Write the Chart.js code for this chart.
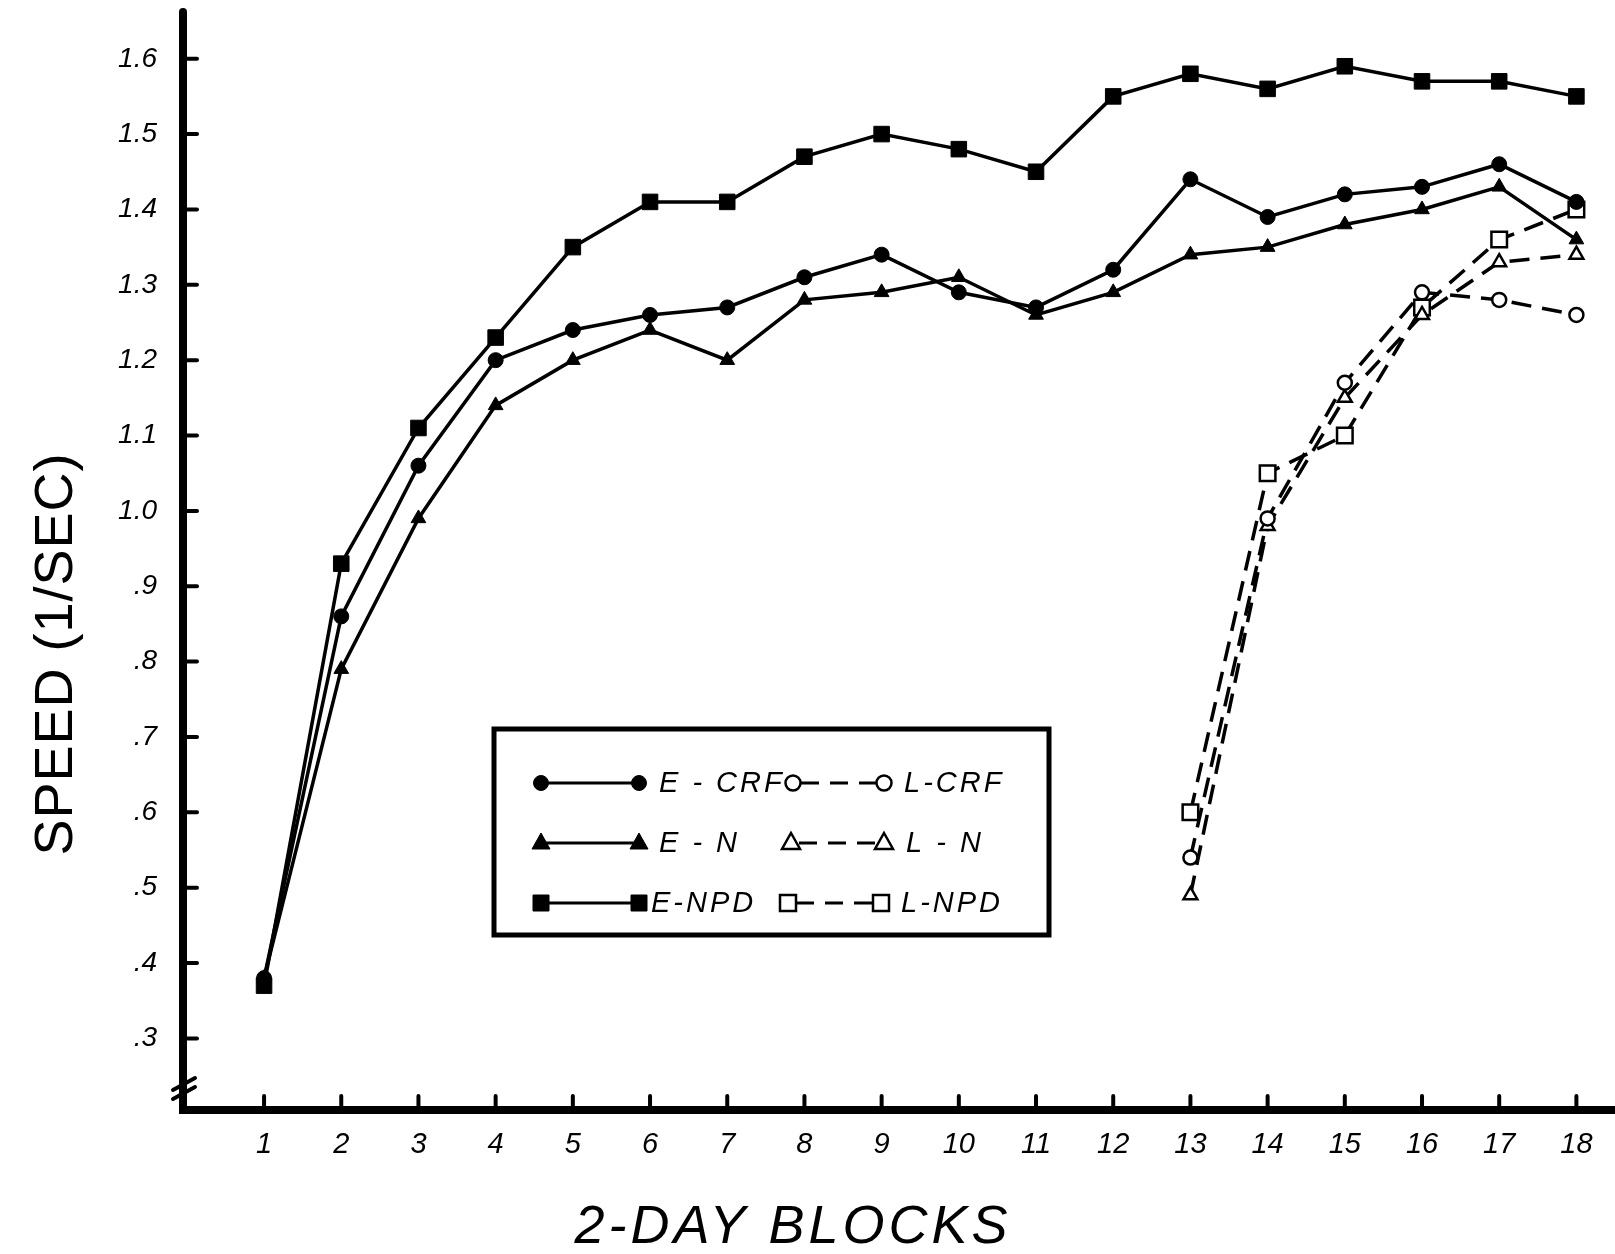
<!DOCTYPE html>
<html>
<head>
<meta charset="utf-8">
<script src="https://cdn.jsdelivr.net/npm/chart.js@4.4.0/dist/chart.umd.min.js"></script>
<style>
html, body { margin: 0; padding: 0; background: #fff; }
#wrap { width: 1615px; height: 1254px; }
</style>
</head>
<body>
<div id="wrap"><canvas id="canvas" width="1615" height="1254"></canvas></div>
<script>
// 2-day blocks and mean speeds (1/sec)
var blocks = [1, 2, 3, 4, 5, 6, 7, 8, 9, 10, 11, 12, 13, 14, 15, 16, 17, 18];
var lateBlocks = [13, 14, 15, 16, 17, 18];

var eCrf = [0.38, 0.86, 1.06, 1.20, 1.24, 1.26, 1.27, 1.31, 1.34, 1.29, 1.27, 1.32, 1.44, 1.39, 1.42, 1.43, 1.46, 1.41];
var eN   = [0.38, 0.79, 0.99, 1.14, 1.20, 1.24, 1.20, 1.28, 1.29, 1.31, 1.26, 1.29, 1.34, 1.35, 1.38, 1.40, 1.43, 1.36];
var eNpd = [0.37, 0.93, 1.11, 1.23, 1.35, 1.41, 1.41, 1.47, 1.50, 1.48, 1.45, 1.55, 1.58, 1.56, 1.59, 1.57, 1.57, 1.55];

var lCrf = [0.54, 0.99, 1.17, 1.29, 1.28, 1.26];
var lN   = [0.49, 0.98, 1.15, 1.26, 1.33, 1.34];
var lNpd = [0.60, 1.05, 1.10, 1.27, 1.36, 1.40];

var yTickValues = [0.3, 0.4, 0.5, 0.6, 0.7, 0.8, 0.9, 1.0, 1.1, 1.2, 1.3, 1.4, 1.5, 1.6];
var yTickLabels = ['.3', '.4', '.5', '.6', '.7', '.8', '.9', '1.0', '1.1', '1.2', '1.3', '1.4', '1.5', '1.6'];

var FONT = '"Liberation Sans", "DejaVu Sans", sans-serif';

function points(xs, ys) {
    return xs.map(function(x, i) { return {x: x, y: ys[i]}; });
}

function earlySet(label, values, style, radius) {
    return {
        label: label,
        data: points(blocks, values),
        borderColor: '#000',
        backgroundColor: '#000',
        borderWidth: 3.5,
        pointStyle: style,
        pointRadius: radius,
        pointBackgroundColor: '#000',
        pointBorderColor: '#000',
        pointBorderWidth: 1,
        tension: 0,
        fill: false
    };
}

function lateSet(label, values, style, radius, dash) {
    return {
        label: label,
        data: points(lateBlocks, values),
        borderColor: '#000',
        backgroundColor: '#fff',
        borderWidth: 3.5,
        borderDash: dash,
        pointStyle: style,
        pointRadius: radius,
        pointBackgroundColor: '#fff',
        pointBorderColor: '#000',
        pointBorderWidth: 2.5,
        tension: 0,
        fill: false
    };
}

function marker(ctx, style, x, y, filled) {
    ctx.save();
    ctx.fillStyle = filled ? '#000' : '#fff';
    ctx.strokeStyle = '#000';
    ctx.lineWidth = filled ? 1 : 2.5;
    ctx.beginPath();
    if (style === 'circle') {
        ctx.arc(x, y, 7.5, 0, Math.PI * 2);
    } else if (style === 'triangle') {
        ctx.moveTo(x, y - 10);
        ctx.lineTo(x + 9, y + 6);
        ctx.lineTo(x - 9, y + 6);
        ctx.closePath();
    } else {
        ctx.rect(x - 8, y - 8, 16, 16);
    }
    ctx.fill();
    ctx.stroke();
    ctx.restore();
}

function legendLine(ctx, x1, x2, y, dash) {
    ctx.save();
    ctx.strokeStyle = '#000';
    ctx.lineWidth = 3;
    ctx.setLineDash(dash);
    ctx.beginPath();
    ctx.moveTo(x1, y);
    ctx.lineTo(x2, y);
    ctx.stroke();
    ctx.restore();
}

var paperPlugin = {
    id: 'paper',
    afterDraw: function(chart) {
        var ctx = chart.ctx;
        var area = chart.chartArea;
        var xs = chart.scales.x;
        var ys = chart.scales.y;

        ctx.save();
        // axes
        ctx.strokeStyle = '#000';
        ctx.lineCap = 'round';
        ctx.lineWidth = 8;
        ctx.beginPath();
        ctx.moveTo(area.left, area.top);
        ctx.lineTo(area.left, area.bottom);
        ctx.lineTo(chart.width, area.bottom);
        ctx.stroke();

        // inward tick stubs
        ctx.lineWidth = 4;
        yTickValues.forEach(function(v) {
            var py = ys.getPixelForValue(v);
            ctx.beginPath();
            ctx.moveTo(area.left, py);
            ctx.lineTo(area.left + 14, py);
            ctx.stroke();
        });
        blocks.forEach(function(b) {
            var px = xs.getPixelForValue(b);
            ctx.beginPath();
            ctx.moveTo(px, area.bottom);
            ctx.lineTo(px, area.bottom - 14);
            ctx.stroke();
        });

        // axis break
        ctx.lineWidth = 4;
        ctx.beginPath();
        ctx.moveTo(area.left - 10, area.bottom - 20);
        ctx.lineTo(area.left + 12, area.bottom - 32);
        ctx.moveTo(area.left - 10, area.bottom - 11);
        ctx.lineTo(area.left + 12, area.bottom - 23);
        ctx.stroke();

        // axis titles
        ctx.fillStyle = '#000';
        ctx.textAlign = 'center';
        ctx.textBaseline = 'middle';
        ctx.font = 'italic 54px ' + FONT;
        ctx.letterSpacing = '4px';
        ctx.fillText('2-DAY BLOCKS', 793, 1228);
        ctx.letterSpacing = '1px';
        ctx.save();
        ctx.translate(57, 654);
        ctx.rotate(-Math.PI / 2);
        ctx.font = '54px ' + FONT;
        ctx.fillText('SPEED (1/SEC)', 0, 0);
        ctx.restore();
        ctx.letterSpacing = '0px';

        // legend box
        ctx.lineWidth = 5;
        ctx.lineCap = 'butt';
        ctx.strokeRect(494, 729, 555, 206);

        var rows = [
            {y: 783, style: 'circle', e: 'E - CRF', l: 'L-CRF', eText: 659, lA: 793, lB: 884, lText: 904},
            {y: 843, style: 'triangle', e: 'E - N', l: 'L - N', eText: 659, lA: 791, lB: 884, lText: 906},
            {y: 903, style: 'rect', e: 'E-NPD', l: 'L-NPD', eText: 651, lA: 788, lB: 881, lText: 901}
        ];
        ctx.font = 'italic 29px ' + FONT;
        ctx.textAlign = 'left';
        ctx.letterSpacing = '3px';
        rows.forEach(function(r) {
            legendLine(ctx, 541, 639, r.y, []);
            marker(ctx, r.style, 541, r.y, true);
            marker(ctx, r.style, 639, r.y, true);
            ctx.fillText(r.e, r.eText, r.y + 1);
            legendLine(ctx, r.lA + 8, r.lB - 8, r.y, [18, 11]);
            marker(ctx, r.style, r.lA, r.y, false);
            marker(ctx, r.style, r.lB, r.y, false);
            ctx.fillText(r.l, r.lText, r.y + 1);
        });
        ctx.restore();
    }
};

var ctx = document.getElementById('canvas').getContext('2d');
var chart = new Chart(ctx, {
    type: 'line',
    data: {
        datasets: [
            earlySet('E-NPD', eNpd, 'rect', 11),
            earlySet('E-CRF', eCrf, 'circle', 7.5),
            earlySet('E-N', eN, 'triangle', 8.5),
            lateSet('L-CRF', lCrf, 'circle', 7, [20, 11]),
            lateSet('L-N', lN, 'triangle', 8, [20, 11]),
            lateSet('L-NPD', lNpd, 'rect', 11, [20, 11])
        ]
    },
    options: {
        responsive: false,
        animation: false,
        devicePixelRatio: 1,
        layout: { autoPadding: false, padding: { top: 12, right: 0, bottom: 0, left: 0 } },
        plugins: {
            legend: { display: false },
            title: { display: false },
            tooltip: { enabled: false }
        },
        scales: {
            x: {
                type: 'linear',
                min: -0.05,
                max: 18.5,
                grid: { display: false, drawTicks: false },
                border: { display: false },
                afterBuildTicks: function(scale) {
                    scale.ticks = blocks.map(function(b) { return {value: b}; });
                },
                afterFit: function(scale) {
                    scale.height = 144;
                    scale.paddingLeft = 0;
                    scale.paddingRight = 0;
                },
                ticks: {
                    autoSkip: false,
                    maxRotation: 0,
                    padding: 18,
                    color: '#000',
                    font: { family: FONT, size: 29, style: 'italic' },
                    callback: function(v) { return String(v); }
                }
            },
            y: {
                type: 'linear',
                min: 0.205,
                max: 1.662,
                grid: { display: false, drawTicks: false },
                border: { display: false },
                afterBuildTicks: function(scale) {
                    scale.ticks = yTickValues.map(function(v) { return {value: v}; });
                },
                afterFit: function(scale) {
                    scale.width = 183;
                    scale.paddingTop = 0;
                    scale.paddingBottom = 0;
                },
                ticks: {
                    autoSkip: false,
                    padding: 26,
                    color: '#000',
                    font: { family: FONT, size: 28, style: 'italic' },
                    callback: function(v) {
                        var i = yTickValues.findIndex(function(t) { return Math.abs(t - v) < 1e-6; });
                        return i >= 0 ? yTickLabels[i] : '';
                    }
                }
            }
        }
    },
    plugins: [paperPlugin]
});
</script>
</body>
</html>
